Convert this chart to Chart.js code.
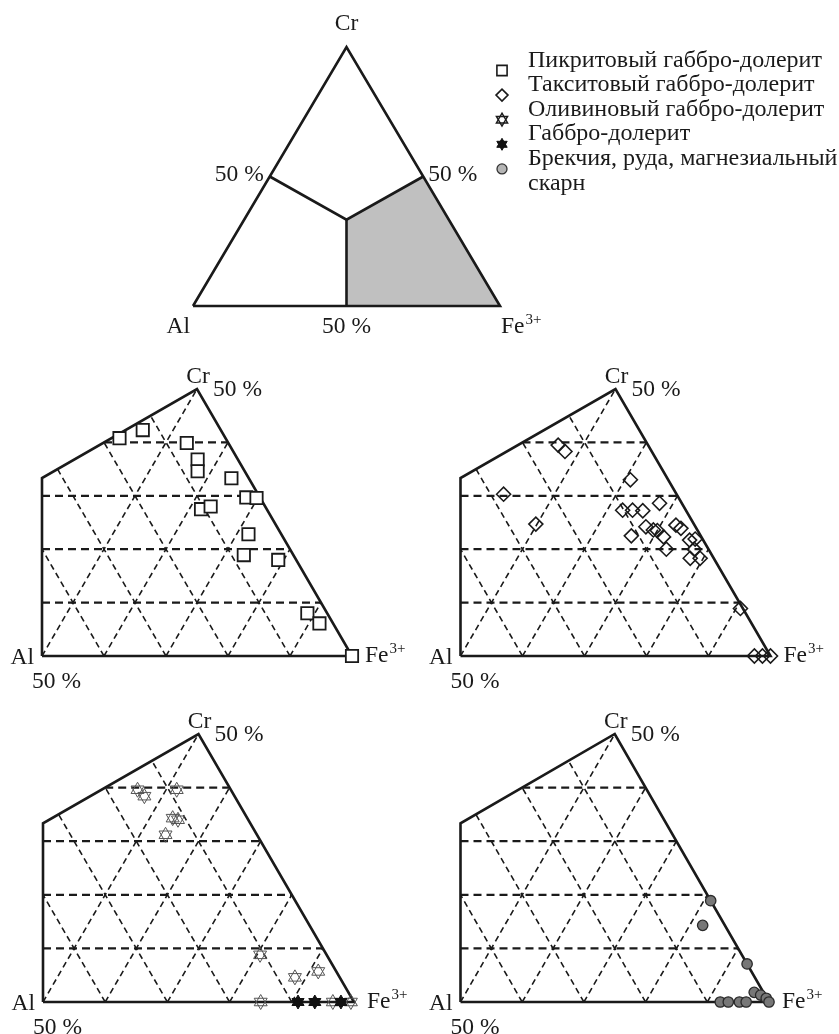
<!DOCTYPE html>
<html>
<head>
<meta charset="utf-8">
<script src="https://cdn.jsdelivr.net/npm/chart.js@4.4.1/dist/chart.umd.min.js"></script>
<style>
  html, body { margin: 0; padding: 0; background: #fff; }
  #page { position: relative; width: 839px; height: 1034px; overflow: hidden; }
  .box { position: absolute; }
</style>
</head>
<body>
<div id="page">
  <div class="box" style="left:0;top:0;width:839px;height:350px"><canvas id="scheme"></canvas></div>
  <div class="box" style="left:0;top:350px;width:420px;height:350px"><canvas id="pikrite"></canvas></div>
  <div class="box" style="left:420px;top:350px;width:419px;height:350px"><canvas id="taxite"></canvas></div>
  <div class="box" style="left:0;top:700px;width:420px;height:334px"><canvas id="olivine"></canvas></div>
  <div class="box" style="left:420px;top:700px;width:419px;height:334px"><canvas id="breccia"></canvas></div>
</div>
<script>
// составы шпинелидов, ат. % [Cr, Al, Fe3+]
const pikrite = [
  [40.8, 17.1, 42.1], [42.3, 12.6, 45.1], [39.9, 6.7, 53.4], [36.8, 6.5, 56.7],
  [34.6, 7.6, 57.8], [33.3, 2.8, 63.9], [29.7, 2.2, 68.1], [29.6, 0.6, 69.8],
  [27.5, 10.6, 61.9], [28.0, 8.8, 63.2], [22.8, 5.3, 71.9], [18.9, 8.0, 73.1],
  [18.0, 2.9, 79.1], [8.0, 3.2, 88.8], [6.1, 2.2, 91.7], [0, 0, 100]
];
const taxite = [
  [39.5, 14.5, 46.0], [38.3, 14.0, 47.7], [33.0, 6.1, 60.9], [30.3, 27.9, 41.8],
  [24.7, 25.5, 49.8], [27.3, 10.2, 62.5], [27.3, 8.6, 64.1], [27.2, 7.0, 65.8],
  [28.6, 3.6, 67.8], [22.5, 11.2, 66.3], [24.2, 8.0, 67.8], [23.6, 7.1, 69.3],
  [23.5, 6.5, 70.0], [22.3, 6.1, 71.6], [20.0, 6.8, 73.2], [24.5, 3.0, 72.5],
  [23.9, 2.5, 73.6], [21.7, 2.2, 76.1], [21.9, 1.2, 76.9], [20.0, 2.3, 77.7],
  [18.3, 3.8, 77.9], [18.3, 2.2, 79.5], [8.9, 0.4, 90.7],
  [0, 2.6, 97.4], [0, 1.3, 98.7], [0, 0, 100]
];
const olivine = [
  [39.6, 15.0, 45.4], [38.4, 14.5, 47.1], [39.6, 8.7, 51.7], [34.3, 12.0, 53.7],
  [34.0, 11.3, 54.7], [31.2, 14.7, 54.1], [8.8, 10.7, 80.5], [4.6, 7.2, 88.2],
  [5.7, 2.9, 91.4], [0, 15.0, 85.0], [0, 3.4, 96.6], [0, 0.5, 99.5]
];
const gabbro = [[0, 9.0, 91.0], [0, 6.3, 93.7], [0, 2.1, 97.9]];
const breccia = [
  [18.9, 0, 81.1], [14.3, 3.6, 82.1], [7.1, 0, 92.9], [1.8, 1.5, 96.7],
  [1.3, 0.7, 98.0], [0.7, 0.1, 99.2], [0, 7.9, 92.1], [0, 6.6, 93.4],
  [0, 4.8, 95.2], [0, 3.7, 96.3], [0, 0, 100]
];

// линии сетки через 10 %
const crLevels = [10, 20, 30, 40];
const alLevels = [10, 20, 30, 40];
const feLevels = [50, 60, 70, 80, 90];

const legendNames = [
  ['Пикритовый габбро-долерит'],
  ['Такситовый габбро-долерит'],
  ['Оливиновый габбро-долерит'],
  ['Габбро-долерит'],
  ['Брекчия, руда, магнезиальный', 'скарн']
];

const FONT = '23.5px "Liberation Serif", "Times New Roman", serif';
const LEGEND_FONT = '24px "Liberation Serif", "Times New Roman", serif';
const SUP_FONT = '15px "Liberation Serif", "Times New Roman", serif';
const INK = '#1a1a1a';
const SQ3 = Math.sqrt(3) / 2;

// [Cr, Al, Fe] -> декартовы координаты (Al в начале, Fe справа, Cr сверху)
function toXY(p) {
  const s = p[0] + p[1] + p[2];
  return { x: (p[2] + p[0] / 2) / s * 100, y: p[0] / s * 100 * SQ3 };
}

const C = {
  cr: [100, 0, 0], al: [0, 100, 0], fe: [0, 0, 100],
  crAl: [50, 50, 0], crFe: [50, 0, 50], alFe: [0, 50, 50],
  mid: [100 / 3, 100 / 3, 100 / 3]
};

const solid = (pts, w) => ({
  data: pts.map(toXY), showLine: true, borderColor: INK, borderWidth: w || 2.6,
  borderJoinStyle: 'miter', pointRadius: 0, fill: false, clip: false, order: 2
});
const dashed = (pts, horiz) => ({
  data: pts.map(toXY), showLine: true, borderColor: INK,
  borderWidth: horiz ? 2.2 : 1.6, borderDash: horiz ? [8, 5] : [6, 4],
  pointRadius: 0, fill: false, order: 3
});

// поле Fe3+ > Al, Fe3+ > Cr, сетка обрезана по его границам
function fieldGrid() {
  const sets = [];
  crLevels.forEach(k => {
    const left = k <= 100 / 3 ? [k, (100 - k) / 2, (100 - k) / 2] : [k, 100 - 2 * k, k];
    sets.push(dashed([left, [k, 0, 100 - k]], true));
  });
  alLevels.forEach(k => {
    const top = k <= 100 / 3 ? [(100 - k) / 2, k, (100 - k) / 2] : [100 - 2 * k, k, k];
    sets.push(dashed([[0, k, 100 - k], top], false));
  });
  feLevels.forEach(k => sets.push(dashed([[0, 100 - k, k], [100 - k, 0, k]], false)));
  sets.push(solid([C.alFe, C.fe, C.crFe, C.mid, C.alFe]));
  return sets;
}

const styles = {
  pikrite: [{ pointStyle: 'rect', r: 8.7, fill: '#fff', stroke: INK, lw: 1.8 }],
  taxite: [{ pointStyle: 'rectRot', r: 7, fill: 'rgba(255,255,255,0)', stroke: INK, lw: 1.6 }],
  olivine: [
    { pointStyle: 'triangle', r: 7.5, rot: 0, fill: 'rgba(255,255,255,0)', stroke: '#555', lw: 1 },
    { pointStyle: 'triangle', r: 7.5, rot: 180, fill: 'rgba(255,255,255,0)', stroke: '#555', lw: 1 }
  ],
  gabbro: [
    { pointStyle: 'triangle', r: 7, rot: 0, fill: '#111', stroke: '#111', lw: 1 },
    { pointStyle: 'triangle', r: 7, rot: 180, fill: '#111', stroke: '#111', lw: 1 }
  ],
  breccia: [{ pointStyle: 'circle', r: 5.2, fill: '#777', stroke: '#2a2a2a', lw: 1.3 }]
};

function markers(points, style) {
  return style.map(s => ({
    data: points.map(toXY), showLine: false, pointStyle: s.pointStyle,
    pointRadius: s.r, pointRotation: s.rot || 0, pointBackgroundColor: s.fill,
    pointBorderColor: s.stroke, pointBorderWidth: s.lw, clip: false, order: 0
  }));
}

const labelPlugin = {
  id: 'ternaryLabels',
  afterDraw(chart, args, opts) {
    const { ctx, scales: { x, y } } = chart;
    ctx.save();
    ctx.fillStyle = INK;
    ctx.textBaseline = 'alphabetic';
    (opts.items || []).forEach(l => {
      const p = toXY(l.at);
      const px = x.getPixelForValue(p.x) + (l.dx || 0);
      const py = y.getPixelForValue(p.y) + (l.dy || 0);
      ctx.font = FONT;
      ctx.textAlign = l.align || 'left';
      ctx.fillText(l.text, px, py);
      if (l.sup) {
        const w = ctx.measureText(l.text).width;
        ctx.font = SUP_FONT;
        ctx.textAlign = 'left';
        ctx.fillText(l.sup, px + w + 1, py - 9);
      }
    });
    ctx.restore();
  }
};

const legendPlugin = {
  id: 'rockLegend',
  afterDraw(chart) {
    const ctx = chart.ctx;
    const legendStyles = [
      [{ pointStyle: 'rect', r: 7.2, fill: '#fff', stroke: INK, lw: 1.6 }],
      [{ pointStyle: 'rectRot', r: 6, fill: '#fff', stroke: INK, lw: 1.6 }],
      styles.olivine.map(s => Object.assign({}, s, { r: 6.5, stroke: INK, lw: 1.4 })),
      styles.gabbro.map(s => Object.assign({}, s, { r: 6 })),
      [{ pointStyle: 'circle', r: 5, fill: '#b5b5b5', stroke: '#333', lw: 1.3 }]
    ];
    ctx.save();
    legendNames.forEach((lines, i) => {
      const base = 66.5 + i * 24.6;
      legendStyles[i].forEach(s => {
        ctx.fillStyle = s.fill;
        ctx.strokeStyle = s.stroke;
        ctx.lineWidth = s.lw;
        Chart.helpers.drawPoint(ctx, { pointStyle: s.pointStyle, radius: s.r, rotation: s.rot || 0, borderWidth: s.lw }, 502, base + 4);
      });
      ctx.fillStyle = INK;
      ctx.font = LEGEND_FONT;
      ctx.textAlign = 'left';
      ctx.textBaseline = 'alphabetic';
      lines.forEach((t, j) => ctx.fillText(t, 528, base + j * 24.6));
    });
    ctx.restore();
  }
};

function makeChart(id, datasets, pad, xr, yr, items, extra) {
  return new Chart(document.getElementById(id), {
    type: 'line',
    data: { datasets },
    options: {
      responsive: true,
      maintainAspectRatio: false,
      animation: false,
      events: [],
      layout: { padding: pad },
      scales: {
        x: { type: 'linear', min: xr[0], max: xr[1], display: false },
        y: { type: 'linear', min: yr[0], max: yr[1], display: false }
      },
      plugins: {
        legend: { display: false },
        tooltip: { enabled: false },
        ternaryLabels: { items }
      }
    },
    plugins: [labelPlugin].concat(extra || [])
  });
}

// общая схема с выделенным полем Fe3+
makeChart('scheme', [
  solid([C.al, C.fe, C.cr, C.al]),
  solid([C.crAl, C.mid, C.crFe]),
  solid([C.mid, C.alFe]),
  {
    data: [C.alFe, C.mid, C.crFe, C.fe].map(toXY), showLine: true, borderWidth: 0,
    pointRadius: 0, backgroundColor: '#c0c0c0', fill: 'origin', order: 5
  }
], { left: 193, right: 339, top: 47, bottom: 44 }, [0, 100], [0, 100 * SQ3], [
  { text: 'Cr', at: C.cr, align: 'center', dy: -17 },
  { text: '50 %', at: C.crAl, align: 'right', dx: -6, dy: 4 },
  { text: '50 %', at: C.crFe, align: 'left', dx: 5, dy: 4 },
  { text: 'Al', at: C.al, align: 'right', dx: -3, dy: 27 },
  { text: '50 %', at: C.alFe, align: 'center', dy: 27 },
  { text: 'Fe', sup: '3+', at: C.fe, align: 'left', dx: 1, dy: 27 }
], [legendPlugin]);

const fieldLabels = [
  { text: 'Cr', at: C.crFe, align: 'center', dx: 1, dy: -6 },
  { text: '50 %', at: C.crFe, align: 'left', dx: 16, dy: 7 },
  { text: 'Al', at: C.alFe, align: 'right', dx: -8, dy: 8 },
  { text: '50 %', at: C.alFe, align: 'left', dx: -10, dy: 32 },
  { text: 'Fe', sup: '3+', at: C.fe, align: 'left', dx: 13, dy: 6 }
];
const XR = [50, 100], YR = [0, 50 * SQ3];

makeChart('pikrite', markers(pikrite, styles.pikrite).concat(fieldGrid()),
  { left: 42, right: 68, top: 39, bottom: 44 }, XR, YR, fieldLabels);
makeChart('taxite', markers(taxite, styles.taxite).concat(fieldGrid()),
  { left: 40.5, right: 68.5, top: 39, bottom: 44 }, XR, YR, fieldLabels);
makeChart('olivine', markers(gabbro, styles.gabbro).concat(markers(olivine, styles.olivine), fieldGrid()),
  { left: 43, right: 66, top: 34, bottom: 32 }, XR, YR, fieldLabels);
makeChart('breccia', markers(breccia, styles.breccia).concat(fieldGrid()),
  { left: 40.5, right: 70, top: 34, bottom: 32 }, XR, YR, fieldLabels);
</script>
</body>
</html>
